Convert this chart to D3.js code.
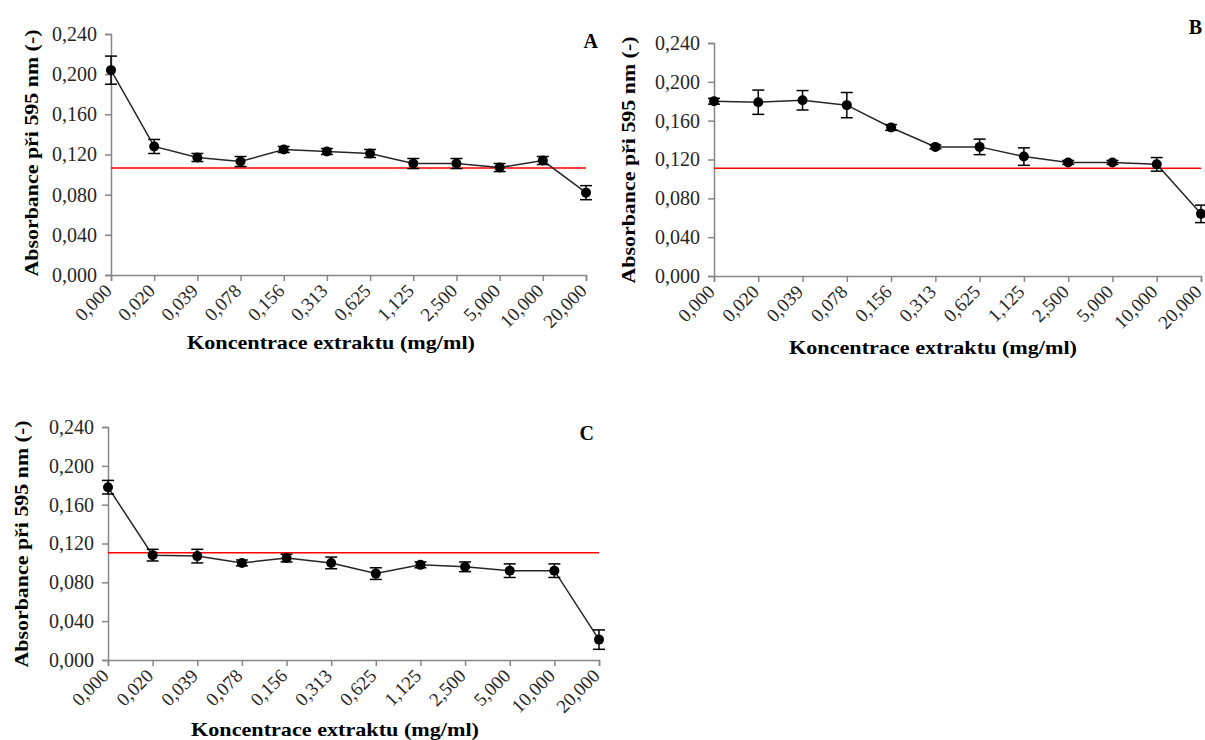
<!DOCTYPE html>
<html lang="cs">
<head>
    <meta charset="UTF-8">
    <title>Absorbance</title>
    <script src="https://cdnjs.cloudflare.com/ajax/libs/d3/7.8.5/d3.min.js"></script>
    <style>
        body { margin: 0; background: #fff; }
        svg { display: block; font-family: "Liberation Serif", "Times New Roman", serif; }
    </style>
</head>
<body>
    <div id="chart"></div>
    <script>
        // data
        var categories = ["0,000", "0,020", "0,039", "0,078", "0,156", "0,313", "0,625", "1,125", "2,500", "5,000", "10,000", "20,000"];
        var yTicks = [0, 0.04, 0.08, 0.12, 0.16, 0.20, 0.24];

        var meansA = [0.204, 0.128, 0.117, 0.113, 0.125, 0.123, 0.121, 0.111, 0.111, 0.107, 0.114, 0.082];
        var errA   = [0.014, 0.007, 0.004, 0.005, 0.003, 0.003, 0.004, 0.005, 0.005, 0.004, 0.004, 0.007];
        var controlA = 0.1066;

        var meansB = [0.180, 0.179, 0.181, 0.176, 0.153, 0.133, 0.133, 0.123, 0.117, 0.117, 0.115, 0.064];
        var errB   = [0.003, 0.0125, 0.010, 0.013, 0.003, 0.002, 0.008, 0.009, 0.002, 0.002, 0.007, 0.009];
        var controlB = 0.111;

        var meansC = [0.178, 0.108, 0.107, 0.100, 0.105, 0.100, 0.089, 0.098, 0.096, 0.092, 0.092, 0.021];
        var errC   = [0.007, 0.006, 0.007, 0.003, 0.004, 0.006, 0.006, 0.003, 0.005, 0.007, 0.007, 0.010];
        var controlC = 0.1105;

        var yTitle = "Absorbance při 595 nm (-)";
        var xTitle = "Koncentrace extraktu (mg/ml)";

        var locale = d3.formatLocale({ decimal: ",", thousands: " ", grouping: [3], currency: ["", ""] });
        var fmt = locale.format(".3f");

        var width = 1205, height = 740;
        var svg = d3.select("#chart").append("svg")
            .attr("width", width)
            .attr("height", height);

        // layout of the three panels
        var panels = [
            { name: "A", means: meansA, err: errA, control: controlA,
              x0: 111, x1: 586, yTop: 34, yBot: 275,
              yTitleX: 31, yTitleY: 153, xTitleX: 331, xTitleY: 349, labelX: 598, labelY: 48 },
            { name: "B", means: meansB, err: errB, control: controlB,
              x0: 714, x1: 1201, yTop: 43, yBot: 276,
              yTitleX: 628, yTitleY: 160, xTitleX: 933, xTitleY: 354, labelX: 1202, labelY: 34 },
            { name: "C", means: meansC, err: errC, control: controlC,
              x0: 108, x1: 599, yTop: 427, yBot: 660,
              yTitleX: 21, yTitleY: 544, xTitleX: 335, xTitleY: 736, labelX: 594, labelY: 440 }
        ];

        panels.forEach(drawPanel);

        function drawPanel(p) {
            var g = svg.append("g");

            var x = d3.scalePoint().domain(categories).range([p.x0, p.x1]);
            var y = d3.scaleLinear().domain([0, 0.24]).range([p.yBot, p.yTop]);

            // y axis
            var yAxis = g.append("g")
                .attr("transform", "translate(" + p.x0 + ",0)")
                .call(d3.axisLeft(y).tickValues(yTicks).tickFormat(fmt).tickSizeOuter(0).tickSize(6).tickPadding(8));
            yAxis.select(".domain").attr("stroke", "#868686").attr("stroke-width", 1.5);
            yAxis.selectAll(".tick line").attr("stroke", "#868686").attr("stroke-width", 1.5);
            yAxis.selectAll(".tick text")
                .attr("fill", "#262626")
                .style("font-size", "20px")
                .style("font-family", "Liberation Serif, serif");

            // x axis, labels turned 45 degrees, ending just under the tick
            var xAxis = g.append("g")
                .attr("transform", "translate(0," + p.yBot + ")")
                .call(d3.axisBottom(x).tickSizeOuter(0).tickSize(6));
            xAxis.select(".domain").attr("stroke", "#868686").attr("stroke-width", 1.5);
            xAxis.selectAll(".tick line").attr("stroke", "#868686").attr("stroke-width", 1.5);
            xAxis.selectAll(".tick text")
                .attr("fill", "#262626")
                .style("font-size", "19px")
                .style("font-family", "Liberation Serif, serif")
                .attr("text-anchor", "end")
                .attr("x", -11)
                .attr("y", 13)
                .attr("dy", 0)
                .attr("transform", "rotate(-45)");

            // control (red) line
            g.append("line")
                .attr("x1", p.x0)
                .attr("x2", p.x1)
                .attr("y1", y(p.control))
                .attr("y2", y(p.control))
                .attr("stroke", "#ff0000")
                .attr("stroke-width", 1.5);

            var pts = categories.map(function (c, i) {
                return { c: c, v: p.means[i], e: p.err[i] };
            });

            // the line
            g.append("path")
                .datum(pts)
                .attr("fill", "none")
                .attr("stroke", "#262626")
                .attr("stroke-width", 1.5)
                .attr("d", d3.line().x(function (d) { return x(d.c); }).y(function (d) { return y(d.v); }));

            // error bars
            var eb = g.append("g").attr("stroke", "#000").attr("stroke-width", 1.5);
            eb.selectAll(".vbar").data(pts).enter().append("line")
                .attr("x1", function (d) { return x(d.c); })
                .attr("x2", function (d) { return x(d.c); })
                .attr("y1", function (d) { return y(d.v - d.e); })
                .attr("y2", function (d) { return y(d.v + d.e); });
            eb.selectAll(".capTop").data(pts).enter().append("line")
                .attr("x1", function (d) { return x(d.c) - 6; })
                .attr("x2", function (d) { return x(d.c) + 6; })
                .attr("y1", function (d) { return y(d.v + d.e); })
                .attr("y2", function (d) { return y(d.v + d.e); });
            eb.selectAll(".capBot").data(pts).enter().append("line")
                .attr("x1", function (d) { return x(d.c) - 6; })
                .attr("x2", function (d) { return x(d.c) + 6; })
                .attr("y1", function (d) { return y(d.v - d.e); })
                .attr("y2", function (d) { return y(d.v - d.e); });

            // markers
            g.selectAll(".dot").data(pts).enter().append("circle")
                .attr("cx", function (d) { return x(d.c); })
                .attr("cy", function (d) { return y(d.v); })
                .attr("r", 5)
                .attr("fill", "#000");

            // titles
            g.append("text")
                .attr("transform", "translate(" + p.yTitleX + "," + p.yTitleY + ") rotate(-90)")
                .attr("text-anchor", "middle")
                .attr("dy", "0.35em")
                .attr("font-weight", "bold")
                .attr("font-size", "19px")
                .attr("fill", "#000")
                .attr("textLength", 247)
                .attr("lengthAdjust", "spacingAndGlyphs")
                .text(yTitle);

            g.append("text")
                .attr("x", p.xTitleX)
                .attr("y", p.xTitleY)
                .attr("text-anchor", "middle")
                .attr("font-weight", "bold")
                .attr("font-size", "19px")
                .attr("fill", "#000")
                .attr("textLength", 288)
                .attr("lengthAdjust", "spacingAndGlyphs")
                .text(xTitle);

            g.append("text")
                .attr("x", p.labelX)
                .attr("y", p.labelY)
                .attr("text-anchor", "end")
                .attr("font-weight", "bold")
                .attr("font-size", "20px")
                .attr("fill", "#000")
                .text(p.name);
        }
    </script>
</body>
</html>
